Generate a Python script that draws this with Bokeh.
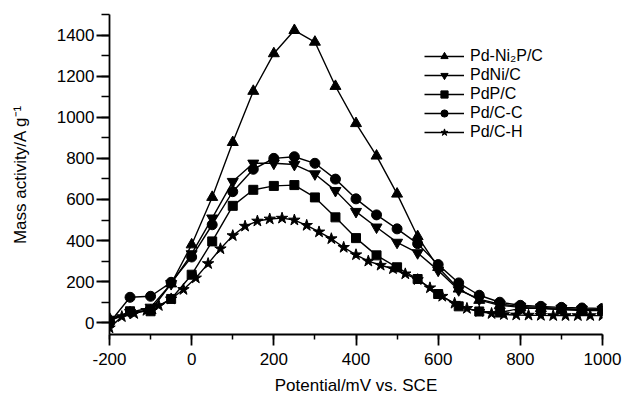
from bokeh.plotting import figure
from bokeh.models import Range1d, Legend, LegendItem, FixedTicker
from bokeh.embed import file_html
from bokeh.resources import INLINE

# Data
x50 = [-200, -150, -100, -50, 0, 50, 100, 150, 200, 250, 300, 350, 400, 450,
       500, 550, 600, 650, 700, 750, 800, 850, 900, 950, 1000]
pd_ni2p = [20, 50, 60, 190, 380, 611, 878, 1127, 1310, 1423, 1366, 1151, 970, 812,
           627, 420, 270, 165, 110, 85, 75, 70, 65, 65, 60]
pdni = [10, 50, 75, 190, 335, 509, 687, 776, 776, 770, 724, 643, 541, 465,
        391, 340, 255, 160, 115, 90, 80, 75, 70, 65, 65]
pdp = [10, 56, 56, 116, 234, 396, 569, 647, 666, 670, 610, 513, 412, 328,
       270, 213, 140, 80, 55, 50, 70, 70, 65, 60, 60]
pdc_c = [0, 124, 129, 197, 320, 477, 638, 747, 800, 808, 776, 699, 603, 525,
         457, 385, 283, 194, 134, 100, 85, 80, 75, 72, 70]
x30 = [-200, -170, -140, -110, -80, -50, -20, 10, 40, 70, 100, 130, 160, 190, 220,
       250, 280, 310, 340, 370, 400, 430, 460, 490, 520, 550, 580, 610, 640, 670,
       700, 730, 760, 790, 820, 850, 880, 910, 940, 970, 1000]
pdc_h = [-25, 30, 45, 60, 84, 116, 162, 218, 288, 360, 424, 470, 495, 505, 509,
         500, 474, 442, 409, 367, 331, 300, 280, 263, 238, 210, 170, 129, 95, 70,
         55, 45, 40, 38, 37, 36, 35, 35, 35, 35, 35]

x_ticks = [-200, 0, 200, 400, 600, 800, 1000]
x_tick_labels = ["-200", "0", "200", "400", "600", "800", "1000"]
y_ticks = [0, 200, 400, 600, 800, 1000, 1200, 1400]

FONT = "Liberation Sans"

p = figure(width=623, height=397, output_backend="svg", toolbar_location=None,
           x_range=Range1d(-200, 1000), y_range=Range1d(-57, 1500),
           min_border_left=109, min_border_right=21, min_border_top=14,
           min_border_bottom=62, x_axis_location="below", y_axis_location="left")
p.outline_line_color = None
p.xgrid.visible = False
p.ygrid.visible = False
p.background_fill_color = "white"

for ax in (p.xaxis[0], p.yaxis[0]):
    ax.axis_line_width = 1.8
    ax.axis_line_color = "black"
    ax.major_tick_line_width = 1.8
    ax.major_tick_line_color = "black"
    ax.minor_tick_line_width = 1.5
    ax.minor_tick_line_color = "black"
    ax.major_tick_in = 0
    ax.minor_tick_in = 0
    ax.major_label_text_font = FONT
    ax.major_label_text_font_size = "17px"
    ax.major_label_text_color = "black"
    ax.axis_label_text_font = FONT
    ax.axis_label_text_font_style = "normal"
    ax.axis_label_text_font_size = "17px"
    ax.axis_label_text_color = "black"

p.xaxis[0].ticker = FixedTicker(ticks=x_ticks, minor_ticks=list(range(-200, 1001, 100)))
p.xaxis[0].major_label_overrides = {t: s for t, s in zip(x_ticks, x_tick_labels)}
p.yaxis[0].ticker = FixedTicker(ticks=y_ticks, minor_ticks=list(range(0, 1501, 100)))
p.xaxis[0].major_tick_out = 11
p.xaxis[0].minor_tick_out = 5
p.yaxis[0].major_tick_out = 13
p.yaxis[0].minor_tick_out = 8
p.xaxis[0].major_label_standoff = 7
p.yaxis[0].major_label_standoff = 2
p.xaxis[0].axis_label = "Potential/mV vs. SCE"
p.xaxis[0].axis_label_standoff = 8
p.yaxis[0].axis_label = "Mass activity/A g\u207b\u00b9"
p.yaxis[0].axis_label_standoff = 24

lw = 1.4
series = [
    ("Pd-Ni\u2082P/C", x50, pd_ni2p, "triangle", 11),
    ("PdNi/C", x50, pdni, "inverted_triangle", 11),
    ("PdP/C", x50, pdp, "square", 9),
    ("Pd/C-C", x50, pdc_c, "circle", 10),
    ("Pd/C-H", x30, pdc_h, "star", 12),
]
items = []
for name, xs, ys, marker, size in series:
    l = p.line(xs, ys, line_color="black", line_width=lw)
    s = p.scatter(xs, ys, marker=marker, size=size, fill_color="black", line_color="black")
    items.append(LegendItem(label=name, renderers=[l, s]))

legend = Legend(items=items, location=(315, 193), glyph_width=40, glyph_height=18,
                label_height=18, spacing=1, padding=0, margin=0, label_standoff=6,
                label_text_font=FONT, label_text_font_size="16px",
                label_text_color="black",
                border_line_color=None, background_fill_alpha=0)
p.add_layout(legend, "center")

open("out.html", "w").write(file_html(p, INLINE))
